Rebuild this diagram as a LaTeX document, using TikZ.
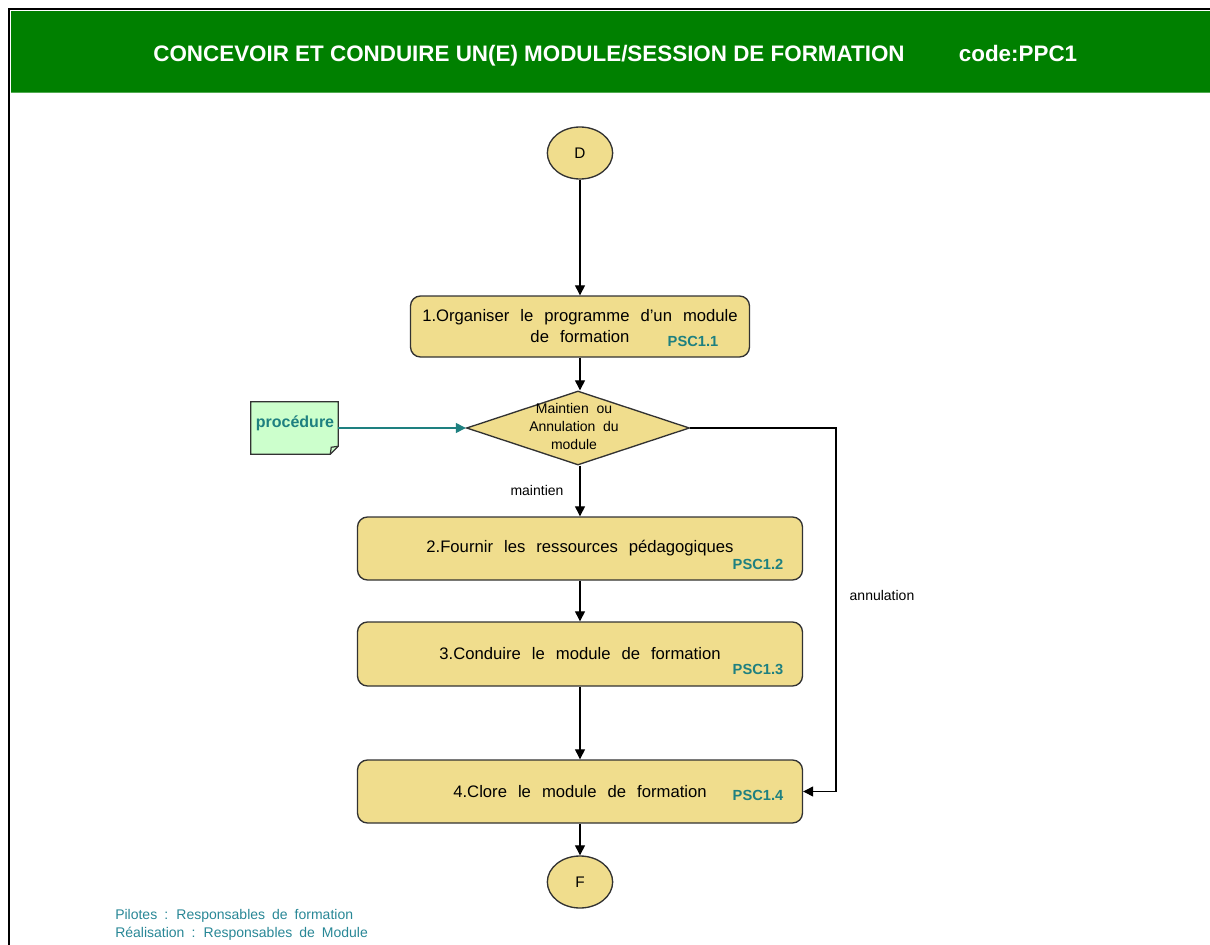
\documentclass[tikz,border=0pt]{standalone}
\usepackage{fontspec}
\setmainfont{Liberation Sans}
\usetikzlibrary{arrows.meta,shapes.geometric,calc}

\definecolor{barGreen}{RGB}{0,128,0}
\definecolor{barEdge}{RGB}{80,170,80}
\definecolor{sand}{RGB}{240,221,141}
\definecolor{edgeGray}{RGB}{50,50,50}
\definecolor{tealTxt}{RGB}{30,128,128}
\definecolor{footTeal}{RGB}{40,135,150}
\definecolor{paleGreen}{RGB}{204,255,204}

% wider word spacing used inside the boxes
\newcommand{\wideWords}[1]{\spaceskip=#1 plus 0.1em\relax}

\tikzset{
  procbox/.style={draw=edgeGray, line width=1pt, fill=sand, rounded corners=7.5pt,
    inner sep=0pt, align=center, font=\fontsize{12.5}{15.75}\selectfont,
    execute at begin node={\wideWords{0.66em}}},
  terminal/.style={draw=edgeGray, line width=1pt, fill=sand, ellipse, inner sep=0pt,
    minimum width=49pt, minimum height=39pt, font=\fontsize{11.5}{13}\selectfont},
  code/.style={text=tealTxt, font=\bfseries\fontsize{11}{12}\selectfont, inner sep=0pt},
  flow/.style={draw=black, line width=0.8pt, -{Triangle[length=7.5pt,width=7.5pt]}},
  small/.style={font=\fontsize{10.5}{13.5}\selectfont, inner sep=0pt},
  heading/.style={text=white, font=\bfseries\fontsize{16.8}{18}\selectfont, inner sep=0pt, anchor=base}
}

\begin{document}
\begin{tikzpicture}[x=0.75pt, y=-0.75pt]
\useasboundingbox (0,0) rectangle (1210,945);

% frame and title bar
\fill[barGreen] (11,11) rectangle (1210,93);
\draw[barEdge, line width=0.75pt] (11,93) -- (1210,93);
\draw[black, line width=1.6pt] (9,945) -- (9,9) -- (1210,9);
\node[heading] (title) at (529,62)
  {CONCEVOIR ET CONDUIRE UN(E) MODULE/SESSION DE FORMATION};
\node[heading] (code) at (1018,62) {code:PPC1};

% start / end
\node[terminal] (D) at (580,153) {D};
\node[terminal] (F) at (580,882) {F};

% process steps
\node[procbox, minimum width=254.25pt, minimum height=45.75pt] (s1) at (580,326.5)
  {1.Organiser le programme d'un module\\de formation};
\node[code] (c1) at (693,341) {PSC1.1};

\node[procbox, minimum width=333.75pt, minimum height=47.25pt] (s2) at (580,548.5)
  {2.Fournir les ressources pédagogiques};
\node[code] (c2) at (758,564) {PSC1.2};

\node[procbox, minimum width=333.75pt, minimum height=48pt] (s3) at (580,654)
  {3.Conduire le module de formation};
\node[code] (c3) at (758,669) {PSC1.3};

\node[procbox, minimum width=333.75pt, minimum height=47.25pt] (s4) at (580,791.5)
  {4.Clore le module de formation};
\node[code] (c4) at (758,795) {PSC1.4};

% decision
\node[draw=edgeGray, line width=1pt, fill=sand, diamond, inner sep=0pt,
      minimum width=167.25pt, minimum height=55.5pt] (dec) at (578,428) {};
\node[align=center, inner sep=0pt, font=\fontsize{10.5}{13.5}\selectfont,
      execute at begin node={\wideWords{0.55em}}] (dectxt) at (574,426)
  {Maintien ou\\Annulation du\\module};

% procedure document with folded corner
\node[inner sep=0pt, minimum width=65.25pt, minimum height=39pt] (proc) at (294.5,428) {};
\draw[edgeGray, line width=1pt, fill=paleGreen]
  (proc.north west) -- (proc.north east) -- ($(proc.south east)+(0,-8)$)
  -- ($(proc.south east)+(-8,0)$) -- (proc.south west) -- cycle;
\draw[edgeGray, line width=0.9pt]
  ($(proc.south east)+(-8,0)$) -- ($(proc.south east)+(-7,-7)$) -- ($(proc.south east)+(0,-8)$);
\node[text=tealTxt, font=\bfseries\fontsize{12}{14}\selectfont, inner sep=0pt] (proctxt) at (295,423) {procédure};

% connectors
\coordinate (ann) at (836,428);
\draw[flow] (D) -- (s1);
\draw[flow] (s1) -- (s1 |- dec.north);
\draw[flow] (dec.south -| s2.north) -- (s2);
\draw[flow] (s2) -- (s3);
\draw[flow] (s3) -- (s4);
\draw[flow] (s4) -- (F);
\draw[flow] (dec.east) -- (ann) |- (s4.east);
\draw[draw=tealTxt, line width=0.8pt, -{Triangle[length=7.5pt,width=7.5pt]}, tealTxt]
  (proc.east) -- (dec.west);

% branch labels
\node[small] (lm) at (537,490) {maintien};
\node[small] (la) at (882,595) {annulation};

% footer
\node[small, text=footTeal, anchor=west, align=left,
      execute at begin node={\wideWords{0.5em}}] (foot) at (115,925)
  {Pilotes : Responsables de formation\\Réalisation : Responsables de Module};
\end{tikzpicture}
\end{document}
